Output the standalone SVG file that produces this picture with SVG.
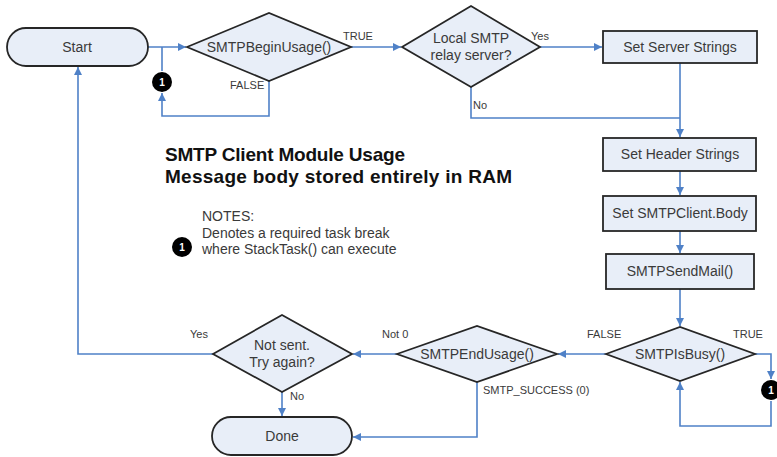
<svg xmlns="http://www.w3.org/2000/svg" width="777" height="457" viewBox="0 0 777 457">
<defs>
<style>
.n{fill:#e8eef8;stroke:#262626;stroke-width:1.8}
.t{font-family:"Liberation Sans",Arial,sans-serif;font-size:14px;fill:#3a3a3a;text-anchor:middle}
.l{font-family:"Liberation Sans",Arial,sans-serif;font-size:11px;fill:#3a3a3a}
.c{fill:none;stroke:#4f81c7;stroke-width:1.6}
.b{fill:#000}
.bt{font-family:"Liberation Sans",Arial,sans-serif;font-size:10px;font-weight:bold;fill:#fff;text-anchor:middle}
.h{font-family:"Liberation Sans",Arial,sans-serif;font-size:19px;font-weight:bold;fill:#111}
.nt{font-family:"Liberation Sans",Arial,sans-serif;font-size:14px;fill:#3a3a3a}
</style>
<marker id="a" viewBox="0 0 10 10" refX="10" refY="5" markerWidth="8" markerHeight="8" markerUnits="userSpaceOnUse" orient="auto"><path d="M0,0 L10,5 L0,10 z" fill="#4f81c7"/></marker>
</defs>
<rect width="777" height="457" fill="#fff"/>
<g id="connectors">
<path class="c" d="M148,47 H186" marker-end="url(#a)"/>
<path class="c" d="M162,47 V71"/>
<path class="c" d="M269,81 V116 H162 V93" marker-end="url(#a)"/>
<path class="c" d="M351,47 H401" marker-end="url(#a)"/>
<path class="c" d="M540,47 H602" marker-end="url(#a)"/>
<path class="c" d="M471,87 V118 H680"/>
<path class="c" d="M680,63 V137" marker-end="url(#a)"/>
<path class="c" d="M680,171 V195" marker-end="url(#a)"/>
<path class="c" d="M680,231 V253" marker-end="url(#a)"/>
<path class="c" d="M680,289 V326" marker-end="url(#a)"/>
<path class="c" d="M755,354 H771 V379" marker-end="url(#a)"/>
<path class="c" d="M771,401 V426 H680 V382" marker-end="url(#a)"/>
<path class="c" d="M606,354 H558" marker-end="url(#a)"/>
<path class="c" d="M397,354 H353" marker-end="url(#a)"/>
<path class="c" d="M477,382 V437 H353" marker-end="url(#a)"/>
<path class="c" d="M282,392 V416" marker-end="url(#a)"/>
<path class="c" d="M213,354 H78 V67" marker-end="url(#a)"/>
<text class="l" x="343" y="40">TRUE</text>
<text class="l" x="230" y="89">FALSE</text>
<text class="l" x="531" y="40">Yes</text>
<text class="l" x="473" y="109">No</text>
<text class="l" x="587" y="338">FALSE</text>
<text class="l" x="733" y="338">TRUE</text>
<text class="l" x="382" y="338">Not 0</text>
<text class="l" x="483" y="394">SMTP_SUCCESS (0)</text>
<text class="l" x="190" y="338">Yes</text>
<text class="l" x="290" y="400">No</text>
</g>
<g id="start"><rect class="n" x="7" y="28" width="141" height="38" rx="19"/><text class="t" x="77" y="52">Start</text></g>
<g id="begin"><polygon class="n" points="187,47 269,13 351,47 269,81"/><text class="t" x="269" y="52">SMTPBeginUsage()</text></g>
<g id="relay"><polygon class="n" points="402,47 471,6 540,47 471,87"/><text class="t" x="471" y="43">Local SMTP</text><text class="t" x="471" y="60">relay server?</text></g>
<g id="server"><rect class="n" x="603" y="31" width="154" height="32"/><text class="t" x="680" y="52">Set Server Strings</text></g>
<g id="header"><rect class="n" x="603" y="138" width="153" height="33"/><text class="t" x="680" y="159">Set Header Strings</text></g>
<g id="body"><rect class="n" x="603" y="196" width="153" height="35"/><text class="t" x="680" y="218">Set SMTPClient.Body</text></g>
<g id="send"><rect class="n" x="606" y="254" width="148" height="35"/><text class="t" x="680" y="276">SMTPSendMail()</text></g>
<g id="busy"><polygon class="n" points="606,354 680,327 755,354 680,381"/><text class="t" x="680" y="359">SMTPIsBusy()</text></g>
<g id="end"><polygon class="n" points="397,354 477,326 557,354 477,382"/><text class="t" x="477" y="359">SMTPEndUsage()</text></g>
<g id="again"><polygon class="n" points="213,354 282,315 352,354 282,392"/><text class="t" x="282" y="350">Not sent.</text><text class="t" x="282" y="367">Try again?</text></g>
<g id="done"><rect class="n" x="212" y="417" width="140" height="38" rx="19"/><text class="t" x="282" y="441">Done</text></g>
<g id="badge1"><circle class="b" cx="162" cy="82" r="10"/><text class="bt" x="162" y="86">1</text></g>
<g id="badge2"><circle class="b" cx="771" cy="390" r="10"/><text class="bt" x="771" y="394">1</text></g>
<g id="title"><text class="h" x="165" y="161" textLength="240">SMTP Client Module Usage</text><text class="h" x="165" y="183" textLength="347">Message body stored entirely in RAM</text></g>
<g id="notes"><text class="nt" x="202" y="221">NOTES:</text><text class="nt" x="202" y="238">Denotes a required task break</text><text class="nt" x="202" y="254">where StackTask() can execute</text><circle class="b" cx="182" cy="247" r="10"/><text class="bt" x="182" y="251">1</text></g>
</svg>
